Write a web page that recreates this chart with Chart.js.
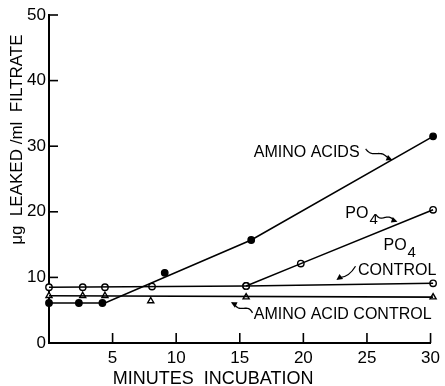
<!DOCTYPE html>
<html>
<head>
<meta charset="utf-8">
<script src="https://cdn.jsdelivr.net/npm/chart.js@4"></script>
<style>
html,body{margin:0;padding:0;background:#fff;}
#wrap{width:445px;height:386px;}
</style>
</head>
<body>
<div id="wrap"><canvas id="c" width="445" height="386"></canvas></div>
<script>
// ---- data (minutes, µg/ml) ----
const aminoAcidsX = [0, 2.35, 4.2, 9.1, 15.9, 30.2];
const aminoAcidsY = [6.1, 6.1, 6.1, 10.7, 15.7, 31.5];
const aminoAcidsFitX = [0, 4.4, 15.9, 30.2];
const aminoAcidsFitY = [6.1, 6.1, 15.7, 31.5];

const po4X = [15.5, 19.8, 30.2];
const po4Y = [8.7, 12.1, 20.3];

const po4ControlX = [0, 2.65, 4.4, 8.1, 15.5, 30.2];
const po4ControlY = [8.5, 8.5, 8.5, 8.6, 8.7, 9.1];
const po4ControlFitX = [0, 15.5, 30.2];
const po4ControlFitY = [8.5, 8.7, 9.1];

const aaControlX = [0, 2.65, 4.4, 8.0, 15.5, 30.2];
const aaControlY = [7.2, 7.2, 7.2, 6.4, 7.0, 7.0];
const aaControlFitX = [0, 30.2];
const aaControlFitY = [7.2, 7.0];

const xTicks = [5, 10, 15, 20, 25, 30];
const yTicks = [0, 10, 20, 30, 40, 50];

const xTitle = 'MINUTES  INCUBATION';
const yTitle = 'μg  LEAKED /ml  FILTRATE';

function pts(xs, ys){ return xs.map((x,i)=>({x:x, y:ys[i]})); }

const FONT = '"Liberation Sans", Arial, sans-serif';

const lineDs = (xs, ys) => ({
  data: pts(xs, ys), showLine: true, borderColor: '#000', borderWidth: 1.6,
  pointRadius: 0, fill: false, tension: 0, clip: false
});
const pointDs = (xs, ys, style, filled) => ({
  data: pts(xs, ys), showLine: false, pointStyle: style,
  pointRadius: style === 'triangle' ? 3.5 : 3.2,
  pointBackgroundColor: filled ? '#000' : '#fff',
  pointBorderColor: '#000', pointBorderWidth: 1.4, clip: false
});

// annotations in data coordinates
const labels = [
  {text:'AMINO ACIDS', x:16.1, y:29.0},
  {text:'PO', sub:'4', x:23.3, y:19.8},
  {text:'PO', sub:'4', x:26.3, y:14.8},
  {text:'CONTROL', x:24.3, y:11.1},
  {text:'AMINO ACID CONTROL', x:16.1, y:4.3}
];
const arrows = [
  {x1:24.9, y1:29.6, x2:27.0, y2:27.9, kind:'wave'},
  {x1:25.7, y1:19.6, x2:27.4, y2:18.5, kind:'wave'},
  {x1:24.1, y1:11.7, x2:22.6, y2:9.6, kind:'curve'},
  {x1:16.0, y1:4.6, x2:14.3, y2:6.2, kind:'wave'}
];

function arrowHead(ctx, x, y, ang){
  const L = 6, W = 3;
  ctx.beginPath();
  ctx.moveTo(x, y);
  ctx.lineTo(x - L*Math.cos(ang) + W*Math.sin(ang), y - L*Math.sin(ang) - W*Math.cos(ang));
  ctx.lineTo(x - L*Math.cos(ang) - W*Math.sin(ang), y - L*Math.sin(ang) + W*Math.cos(ang));
  ctx.closePath();
  ctx.fill();
}

const annot = {
  id: 'annot',
  afterDraw(chart){
    const ctx = chart.ctx, xs = chart.scales.x, ys = chart.scales.y;
    const ca = chart.chartArea;
    ctx.save();
    ctx.strokeStyle = '#000'; ctx.fillStyle = '#000';
    // inward tick marks
    ctx.lineWidth = 1.6;
    xTicks.forEach(v => {
      const px = xs.getPixelForValue(v);
      ctx.beginPath(); ctx.moveTo(px, ca.bottom); ctx.lineTo(px, ca.bottom - 10); ctx.stroke();
    });
    yTicks.filter(v => v > 0).forEach(v => {
      const py = ys.getPixelForValue(v);
      ctx.beginPath(); ctx.moveTo(ca.left, py); ctx.lineTo(ca.left + 9, py); ctx.stroke();
    });
    // axis titles
    ctx.font = '18px ' + FONT;
    ctx.textAlign = 'center'; ctx.textBaseline = 'middle';
    ctx.fillText(xTitle, xs.getPixelForValue(12.9), 379);
    ctx.save();
    ctx.translate(17, ys.getPixelForValue(31.0));
    ctx.rotate(-Math.PI/2);
    ctx.font = '17px ' + FONT;
    ctx.fillText(yTitle, 0, 0);
    ctx.restore();
    // labels
    ctx.textAlign = 'left';
    labels.forEach(l => {
      const px = xs.getPixelForValue(l.x), py = ys.getPixelForValue(l.y);
      ctx.font = '16px ' + FONT;
      ctx.fillText(l.text, px, py);
      if (l.sub){
        const w = ctx.measureText(l.text).width;
        ctx.font = '15px ' + FONT;
        ctx.fillText(l.sub, px + w + 1, py + 7);
      }
    });
    // arrows
    ctx.lineWidth = 1.3;
    arrows.forEach(a => {
      const x1 = xs.getPixelForValue(a.x1), y1 = ys.getPixelForValue(a.y1);
      const x2 = xs.getPixelForValue(a.x2), y2 = ys.getPixelForValue(a.y2);
      const dx = x2 - x1, dy = y2 - y1, len = Math.hypot(dx, dy);
      const ux = dx/len, uy = dy/len, nx = -uy, ny = ux;
      ctx.beginPath();
      if (a.kind === 'wave'){
        const n = 30;
        for (let i = 0; i <= n; i++){
          const t = i/n;
          const off = 2.2*Math.sin(t*Math.PI*2) * (1 - t*0.3);
          const px = x1 + dx*t*0.85 + nx*off, py = y1 + dy*t*0.85 + ny*off;
          if (i === 0) ctx.moveTo(px, py); else ctx.lineTo(px, py);
        }
        ctx.lineTo(x2 - ux*4, y2 - uy*4);
      } else {
        const cx = (x1 + x2)/2 - nx*5, cy = (y1 + y2)/2 - ny*5;
        ctx.moveTo(x1, y1);
        ctx.quadraticCurveTo(cx, cy, x2 - ux*4, y2 - uy*4);
      }
      ctx.stroke();
      arrowHead(ctx, x2, y2, Math.atan2(dy, dx));
    });
    ctx.restore();
  }
};

new Chart(document.getElementById('c'), {
  type: 'scatter',
  data: {
    datasets: [
      lineDs(aminoAcidsFitX, aminoAcidsFitY),
      lineDs(po4X, po4Y),
      lineDs(po4ControlFitX, po4ControlFitY),
      lineDs(aaControlFitX, aaControlFitY),
      pointDs(aminoAcidsX, aminoAcidsY, 'circle', true),
      pointDs(po4X, po4Y, 'circle', false),
      pointDs(po4ControlX, po4ControlY, 'circle', false),
      pointDs(aaControlX, aaControlY, 'triangle', false)
    ]
  },
  options: {
    responsive: false,
    animation: false,
    layout: {padding: {left: 0, right: 12, top: 15, bottom: 0}},
    plugins: {legend: {display: false}, tooltip: {enabled: false}},
    scales: {
      x: {
        type: 'linear', min: 0, max: 30,
        afterFit: s => { s.height = 43; },
        grid: {display: false, drawTicks: false},
        border: {display: true, color: '#000', width: 2},
        ticks: {
          stepSize: 5, padding: 5, color: '#000',
          font: {family: FONT, size: 17},
          callback: v => xTicks.includes(v) ? String(v) : ''
        }
      },
      y: {
        type: 'linear', min: 0, max: 50,
        afterFit: s => { s.width = 49; },
        grid: {display: false, drawTicks: false},
        border: {display: true, color: '#000', width: 2},
        ticks: {
          stepSize: 10, padding: 3, color: '#000',
          font: {family: FONT, size: 17},
          callback: v => yTicks.includes(v) ? String(v) : ''
        }
      }
    }
  },
  plugins: [annot]
});
</script>
</body>
</html>
